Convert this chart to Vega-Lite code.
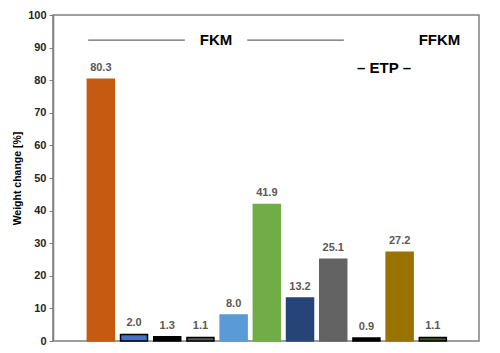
{
  "$schema": "https://vega.github.io/schema/vega-lite/v6.json",
  "width": 426,
  "height": 326,
  "autosize": {"type": "none"},
  "padding": {"left": 53, "top": 15, "right": 21, "bottom": 12},
  "background": "white",
  "config": {
    "view": {"stroke": "#808080", "strokeWidth": 1.5},
    "font": "Liberation Sans"
  },
  "datasets": {
    "bars": [
      {"pos": 1, "bar": "B1", "value": 80.3},
      {"pos": 2, "bar": "B2", "value": 2.0},
      {"pos": 3, "bar": "B3", "value": 1.3},
      {"pos": 4, "bar": "B4", "value": 1.1},
      {"pos": 5, "bar": "B5", "value": 8.0},
      {"pos": 6, "bar": "B6", "value": 41.9},
      {"pos": 7, "bar": "B7", "value": 13.2},
      {"pos": 8, "bar": "B8", "value": 25.1},
      {"pos": 9, "bar": "B9", "value": 0.9},
      {"pos": 10, "bar": "B10", "value": 27.2},
      {"pos": 11, "bar": "B11", "value": 1.1}
    ],
    "labels": [
      {"pos": 4.47, "value": 92.3, "label": "FKM"},
      {"pos": 11.2, "value": 92.3, "label": "FFKM"},
      {"pos": 9.53, "value": 83.7, "label": "– ETP –"}
    ],
    "lines": [
      {"pos": 0.62, "pos2": 3.53, "value": 92.3},
      {"pos": 5.41, "pos2": 8.32, "value": 92.3}
    ]
  },
  "encoding": {
    "x": {"field": "pos", "type": "quantitative", "scale": {"domain": [-0.29, 12.24], "nice": false, "zero": false}, "axis": null},
    "y": {"field": "value", "type": "quantitative", "scale": {"domain": [0, 100], "nice": false},
      "axis": {"title": "Weight change [%]", "titleFontSize": 10.5, "titleFontWeight": "bold", "titleColor": "#000000", "titlePadding": 5,
        "values": [0,10,20,30,40,50,60,70,80,90,100], "labelOverlap": false, "labelFontSize": 11, "labelFontWeight": "bold", "labelColor": "#262626",
        "tickSize": 4, "tickColor": "#808080", "domainColor": "#808080", "domainWidth": 1.5, "grid": false, "labelPadding": 3}}
  },
  "layer": [
    {
      "data": {"name": "bars"},
      "mark": {"type": "bar", "size": 27, "strokeWidth": 1.5},
      "encoding": {
        "fill": {"field": "bar", "type": "nominal", "legend": null,
          "scale": {"domain": ["B1","B2","B3","B4","B5","B6","B7","B8","B9","B10","B11"],
            "range": ["#C55A11","#4472C4","#000000","#595959","#5B9BD5","#70AD47","#264478","#636363","#000000","#997300","#375623"]}},
        "stroke": {"field": "bar", "type": "nominal", "legend": null,
          "scale": {"domain": ["B1","B2","B3","B4","B5","B6","B7","B8","B9","B10","B11"],
            "range": ["#C55A11","#000000","#000000","#000000","#5B9BD5","#70AD47","#264478","#636363","#000000","#997300","#000000"]}}
      }
    },
    {
      "data": {"name": "bars"},
      "mark": {"type": "text", "dy": -11, "fontSize": 11, "fontWeight": "bold", "color": "#595959"},
      "encoding": {
        "text": {"field": "value", "type": "quantitative", "format": ".1f"}
      }
    },
    {
      "data": {"name": "lines"},
      "mark": {"type": "rule", "color": "#404040", "strokeWidth": 1},
      "encoding": {
        "x2": {"field": "pos2"}
      }
    },
    {
      "data": {"name": "labels"},
      "mark": {"type": "text", "fontSize": 15, "fontWeight": "bold", "color": "#000000", "baseline": "middle"},
      "encoding": {
        "text": {"field": "label"}
      }
    }
  ]
}
